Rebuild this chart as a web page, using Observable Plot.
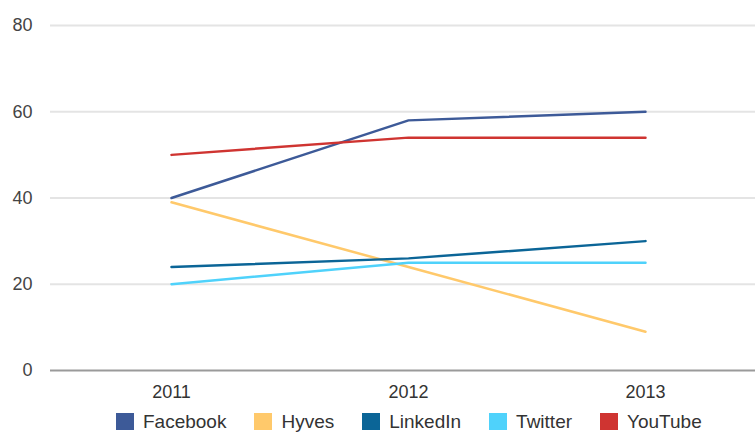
<!DOCTYPE html>
<html>
<head>
<meta charset="utf-8">
<script src="https://cdn.jsdelivr.net/npm/d3@7"></script>
<script src="https://cdn.jsdelivr.net/npm/@observablehq/plot@0.6"></script>
<style>
  html, body { margin: 0; padding: 0; background: #fff; }
  body { width: 755px; height: 433px; overflow: hidden; font-family: "Liberation Sans", Arial, sans-serif; }
  #chart svg { display: block; }
  #legend { display: flex; justify-content: flex-start; padding-left: 102px; margin-top: 3px; font-size: 19px; line-height: 21px; height: 21px; color: #333; }
  .item { display: flex; align-items: center; margin: 0 14px; }
  .sw { width: 18px; height: 17px; margin-right: 9px; }
</style>
</head>
<body>
<div id="chart"></div>
<div id="legend"></div>
<script>
const years = ["2011", "2012", "2013"];
const seriesNames = ["Facebook", "Hyves", "LinkedIn", "Twitter", "YouTube"];
const facebook = [40, 58, 60];
const hyves = [39, 24, 9];
const linkedin = [24, 26, 30];
const twitter = [20, 25, 25];
const youtube = [50, 54, 54];
const colors = ["#3d5a98", "#ffc96b", "#0b6597", "#4fd2fb", "#cf3431"];
const yTicks = [0, 20, 40, 60, 80];

const valuesBySeries = [facebook, hyves, linkedin, twitter, youtube];
const data = [];
seriesNames.forEach((s, i) => years.forEach((y, j) => data.push({series: s, year: y, value: valuesBySeries[i][j]})));

const chart = Plot.plot({
  width: 755,
  height: 408,
  marginLeft: 50,
  marginRight: 0,
  marginTop: 25,
  marginBottom: 38,
  style: {fontFamily: "Liberation Sans, Arial, sans-serif", color: "#444", background: "#fff"},
  x: {type: "point", domain: years, range: [170, 645], padding: 0, label: null},
  y: {domain: [0, 80], label: null},
  color: {domain: seriesNames, range: colors},
  marks: [
    Plot.ruleY(yTicks.filter(d => d !== 0), {stroke: "#e4e4e4", strokeWidth: 2}),
    Plot.ruleY([0], {stroke: "#9a9a9a", strokeWidth: 2}),
    Plot.axisY(yTicks, {tickSize: 0, tickPadding: 18, label: null, fill: "#444", fontSize: 18}),
    Plot.axisX(years, {tickSize: 0, tickPadding: 15, label: null, fill: "#333", fontSize: 18}),
    Plot.line(data, {x: "year", y: "value", z: "series", stroke: "series", strokeWidth: 2.5})
  ]
});
document.getElementById("chart").appendChild(chart);

const legend = document.getElementById("legend");
seriesNames.forEach((s, i) => {
  const item = document.createElement("div");
  item.className = "item";
  const sw = document.createElement("span");
  sw.className = "sw";
  sw.style.background = colors[i];
  const t = document.createElement("span");
  t.textContent = s;
  item.appendChild(sw);
  item.appendChild(t);
  legend.appendChild(item);
});
</script>
</body>
</html>
